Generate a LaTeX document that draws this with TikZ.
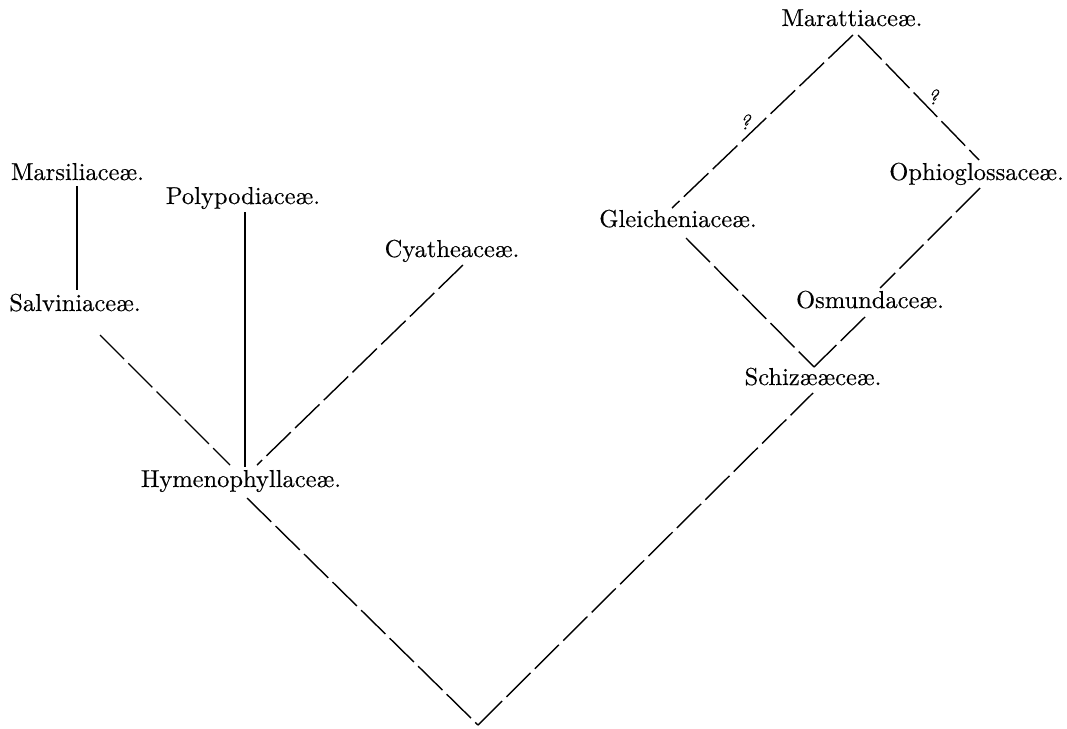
\documentclass[tikz,border=0pt]{standalone}
\usepackage{fontspec}
\newfontfamily\oldprint{lmroman10-regular.otf}[BoldFont=lmroman10-regular.otf, BoldFeatures={FakeBold=0.3}, ItalicFont=lmroman10-italic.otf, BoldItalicFont=lmroman10-italic.otf, BoldItalicFeatures={FakeBold=0.3}]
\tikzset{
  lab/.style={font=\oldprint\bfseries\fontsize{24.5}{29}\selectfont, inner sep=0pt, anchor=base},
  qmark/.style={font=\oldprint\bfseries\itshape\fontsize{21}{24}\selectfont, inner sep=0pt},
  dashline/.style={line width=1.4pt, dash pattern=on 34pt off 6pt},
  solidline/.style={line width=1.4pt},
  thickline/.style={line width=2.5pt}
}
\begin{document}
\begin{tikzpicture}[x=1pt,y=-1pt]
\useasboundingbox (0,0) rectangle (1067,728);
% labels
\node[lab] (mars) at (77.5,180) {Marsiliaceæ.};
\node[lab] (salv) at (75,311) {Salviniaceæ.};
\node[lab] (poly) at (243,204) {Polypodiaceæ.};
\node[lab] (cyat) at (452,257) {Cyatheaceæ.};
\node[lab] (hyme) at (241,487) {Hymenophyllaceæ.};
\node[lab] (glei) at (678,227) {Gleicheniaceæ.};
\node[lab] (mara) at (852,26) {Marattiaceæ.};
\node[lab, anchor=base east] (ophi) at (1064,180) {Ophioglossaceæ.};
\node[lab] (osmu) at (870,308) {Osmundaceæ.};
\node[lab] (schi) at (813,385) {Schizææceæ.};
\node[qmark] (q1) at (745,122) {?};
\node[qmark] (q2) at (933,97) {?};
% connector end points
\coordinate (marsB) at (77,186);
\coordinate (salvT) at (77,290);
\coordinate (salvB) at (100,335);
\coordinate (hymeTL) at (230,465);
\coordinate (polyB) at (245,212);
\coordinate (hymeT) at (245,467);
\coordinate (cyatB) at (463,265);
\coordinate (hymeTR) at (257,465);
\coordinate (hymeB) at (247,498);
\coordinate (root) at (478,725);
\coordinate (schiB) at (813,393);
\coordinate (schiT) at (814,367);
\coordinate (gleiT) at (672,208);
\coordinate (gleiB) at (686,238);
\coordinate (maraL) at (853,35);
\coordinate (maraR) at (858,35);
\coordinate (ophiT) at (979,160);
\coordinate (ophiB) at (980,188);
\coordinate (osmuT) at (880,288);
\coordinate (osmuB) at (865,317);
% connectors
\draw[thickline] (marsB) -- (salvT);
\draw[solidline] (polyB) -- (hymeT);
\draw[dashline] (salvB) -- (hymeTL);
\draw[dashline] (cyatB) -- (hymeTR);
\draw[dashline] (hymeB) -- (root);
\draw[dashline] (root) -- (schiB);
\draw[dashline] (maraL) -- (gleiT);
\draw[dashline] (maraR) -- (ophiT);
\draw[dashline] (ophiB) -- (osmuT);
\draw[dashline] (osmuB) -- (schiT);
\draw[dashline] (gleiB) -- (schiT);
\end{tikzpicture}
\end{document}
